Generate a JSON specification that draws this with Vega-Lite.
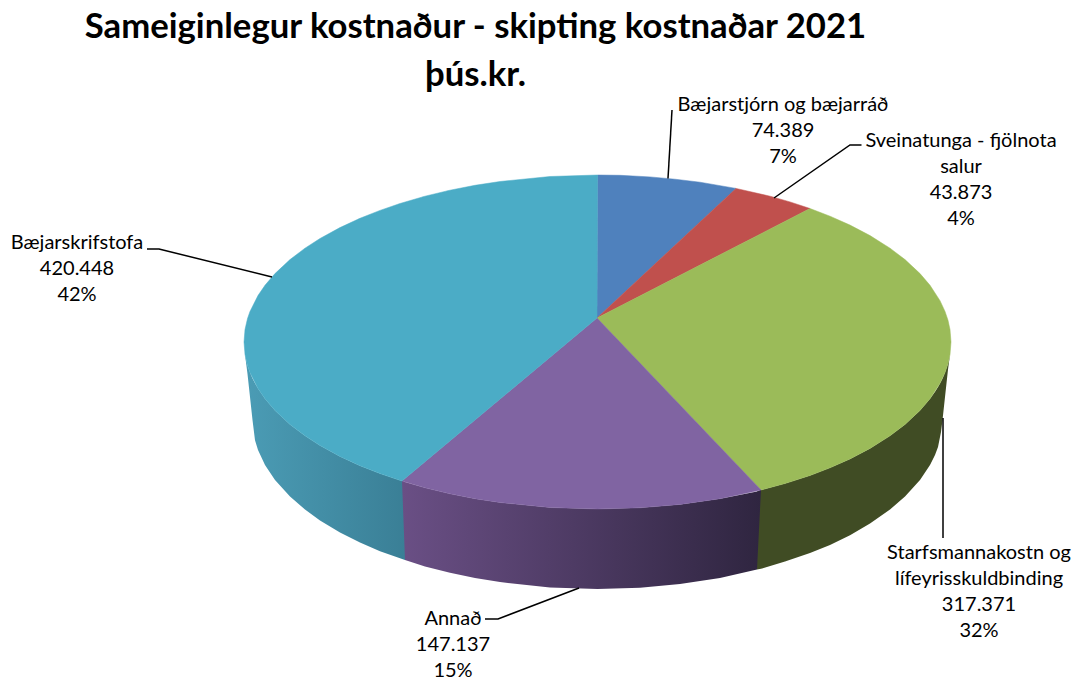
{
"$schema":"https://vega.github.io/schema/vega-lite/v6.json",
"width":1073,"height":680,"padding":0,"autosize":"none",
"background":"white",
"config":{"view":{"stroke":null}},
"title":{"text":["Sameiginlegur kostnaður - skipting kostnaðar 2021","þús.kr."],"font":"Lato","fontSize":34.7,"fontWeight":"bold","color":"#000000","anchor":"middle","dx":-61,"baseline":"top","offset":-94,"lineHeight":48,"orient":"top"},
"datasets":{
"slices":[
{"slice":"Bæjarstjórn og bæjarráð","i":0,"x":597,"y":318},{"slice":"Bæjarstjórn og bæjarráð","i":1,"x":597.5,"y":175},{"slice":"Bæjarstjórn og bæjarráð","i":2,"x":620,"y":175.3},{"slice":"Bæjarstjórn og bæjarráð","i":3,"x":650,"y":176.9},{"slice":"Bæjarstjórn og bæjarráð","i":4,"x":675,"y":179.2},{"slice":"Bæjarstjórn og bæjarráð","i":5,"x":700,"y":182.2},{"slice":"Bæjarstjórn og bæjarráð","i":6,"x":736,"y":188.4},
{"slice":"Sveinatunga - fjölnota salur","i":0,"x":597,"y":318},{"slice":"Sveinatunga - fjölnota salur","i":1,"x":736,"y":188.4},{"slice":"Sveinatunga - fjölnota salur","i":2,"x":770,"y":196.2},{"slice":"Sveinatunga - fjölnota salur","i":3,"x":790,"y":201.9},{"slice":"Sveinatunga - fjölnota salur","i":4,"x":810,"y":208.5},
{"slice":"Starfsmannakostn og lífeyrisskuldbinding","i":0,"x":597,"y":318},{"slice":"Starfsmannakostn og lífeyrisskuldbinding","i":1,"x":810,"y":208.5},{"slice":"Starfsmannakostn og lífeyrisskuldbinding","i":2,"x":830,"y":216.2},{"slice":"Starfsmannakostn og lífeyrisskuldbinding","i":3,"x":850,"y":225.1},{"slice":"Starfsmannakostn og lífeyrisskuldbinding","i":4,"x":870,"y":235.6},{"slice":"Starfsmannakostn og lífeyrisskuldbinding","i":5,"x":890,"y":248.2},{"slice":"Starfsmannakostn og lífeyrisskuldbinding","i":6,"x":905,"y":259.6},{"slice":"Starfsmannakostn og lífeyrisskuldbinding","i":7,"x":920,"y":273.6},{"slice":"Starfsmannakostn og lífeyrisskuldbinding","i":8,"x":930,"y":285.3},{"slice":"Starfsmannakostn og lífeyrisskuldbinding","i":9,"x":940,"y":300.7},{"slice":"Starfsmannakostn og lífeyrisskuldbinding","i":10,"x":945,"y":311.4},{"slice":"Starfsmannakostn og lífeyrisskuldbinding","i":11,"x":948,"y":320.3},{"slice":"Starfsmannakostn og lífeyrisskuldbinding","i":12,"x":950,"y":329.5},{"slice":"Starfsmannakostn og lífeyrisskuldbinding","i":13,"x":951,"y":342},{"slice":"Starfsmannakostn og lífeyrisskuldbinding","i":14,"x":950,"y":354.5},{"slice":"Starfsmannakostn og lífeyrisskuldbinding","i":15,"x":948,"y":363.7},{"slice":"Starfsmannakostn og lífeyrisskuldbinding","i":16,"x":945,"y":372.6},{"slice":"Starfsmannakostn og lífeyrisskuldbinding","i":17,"x":940,"y":383.3},{"slice":"Starfsmannakostn og lífeyrisskuldbinding","i":18,"x":930,"y":398.7},{"slice":"Starfsmannakostn og lífeyrisskuldbinding","i":19,"x":920,"y":410.4},{"slice":"Starfsmannakostn og lífeyrisskuldbinding","i":20,"x":905,"y":424.4},{"slice":"Starfsmannakostn og lífeyrisskuldbinding","i":21,"x":890,"y":435.8},{"slice":"Starfsmannakostn og lífeyrisskuldbinding","i":22,"x":870,"y":448.4},{"slice":"Starfsmannakostn og lífeyrisskuldbinding","i":23,"x":850,"y":458.9},{"slice":"Starfsmannakostn og lífeyrisskuldbinding","i":24,"x":830,"y":467.8},{"slice":"Starfsmannakostn og lífeyrisskuldbinding","i":25,"x":810,"y":475.5},{"slice":"Starfsmannakostn og lífeyrisskuldbinding","i":26,"x":785,"y":483.5},{"slice":"Starfsmannakostn og lífeyrisskuldbinding","i":27,"x":761,"y":490},
{"slice":"Annað","i":0,"x":597,"y":318},{"slice":"Annað","i":1,"x":761,"y":490},{"slice":"Annað","i":2,"x":720,"y":498.7},{"slice":"Annað","i":3,"x":680,"y":504.4},{"slice":"Annað","i":4,"x":640,"y":507.8},{"slice":"Annað","i":5,"x":597.5,"y":509},{"slice":"Annað","i":6,"x":550,"y":507.5},{"slice":"Annað","i":7,"x":500,"y":502.5},{"slice":"Annað","i":8,"x":475,"y":498.7},{"slice":"Annað","i":9,"x":450,"y":493.8},{"slice":"Annað","i":10,"x":425,"y":487.8},{"slice":"Annað","i":11,"x":402,"y":481},
{"slice":"Bæjarskrifstofa","i":0,"x":597,"y":318},{"slice":"Bæjarskrifstofa","i":1,"x":402,"y":481},{"slice":"Bæjarskrifstofa","i":2,"x":380,"y":473.6},{"slice":"Bæjarskrifstofa","i":3,"x":360,"y":465.7},{"slice":"Bæjarskrifstofa","i":4,"x":340,"y":456.4},{"slice":"Bæjarskrifstofa","i":5,"x":320,"y":445.5},{"slice":"Bæjarskrifstofa","i":6,"x":305,"y":435.8},{"slice":"Bæjarskrifstofa","i":7,"x":290,"y":424.4},{"slice":"Bæjarskrifstofa","i":8,"x":275,"y":410.4},{"slice":"Bæjarskrifstofa","i":9,"x":265,"y":398.7},{"slice":"Bæjarskrifstofa","i":10,"x":258,"y":388.5},{"slice":"Bæjarskrifstofa","i":11,"x":250,"y":372.6},{"slice":"Bæjarskrifstofa","i":12,"x":247.5,"y":365.4},{"slice":"Bæjarskrifstofa","i":13,"x":245,"y":354.5},{"slice":"Bæjarskrifstofa","i":14,"x":244,"y":342},{"slice":"Bæjarskrifstofa","i":15,"x":245,"y":329.5},{"slice":"Bæjarskrifstofa","i":16,"x":247.5,"y":318.6},{"slice":"Bæjarskrifstofa","i":17,"x":250,"y":311.4},{"slice":"Bæjarskrifstofa","i":18,"x":258,"y":295.5},{"slice":"Bæjarskrifstofa","i":19,"x":265,"y":285.3},{"slice":"Bæjarskrifstofa","i":20,"x":275,"y":273.6},{"slice":"Bæjarskrifstofa","i":21,"x":290,"y":259.6},{"slice":"Bæjarskrifstofa","i":22,"x":305,"y":248.2},{"slice":"Bæjarskrifstofa","i":23,"x":320,"y":238.5},{"slice":"Bæjarskrifstofa","i":24,"x":340,"y":227.6},{"slice":"Bæjarskrifstofa","i":25,"x":360,"y":218.3},{"slice":"Bæjarskrifstofa","i":26,"x":380,"y":210.4},{"slice":"Bæjarskrifstofa","i":27,"x":400,"y":203.5},{"slice":"Bæjarskrifstofa","i":28,"x":425,"y":196.2},{"slice":"Bæjarskrifstofa","i":29,"x":450,"y":190.2},{"slice":"Bæjarskrifstofa","i":30,"x":475,"y":185.3},{"slice":"Bæjarskrifstofa","i":31,"x":500,"y":181.5},{"slice":"Bæjarskrifstofa","i":32,"x":550,"y":176.5},{"slice":"Bæjarskrifstofa","i":33,"x":597.5,"y":175}
],
"wallTeal":[
{"x":244,"y":342,"y2":342},{"x":245,"y":354.5,"y2":354.5},{"x":247.5,"y":365.4,"y2":374},{"x":250,"y":372.6,"y2":397},{"x":252.5,"y":378.4,"y2":420},{"x":255,"y":383.3,"y2":440.3},{"x":258,"y":388.5,"y2":450},{"x":265,"y":398.7,"y2":465},{"x":275,"y":410.4,"y2":480},{"x":290,"y":424.4,"y2":496.6},{"x":305,"y":435.8,"y2":509.6},{"x":320,"y":445.5,"y2":520.4},{"x":340,"y":456.4,"y2":532.5},{"x":360,"y":465.7,"y2":542.6},{"x":380,"y":473.6,"y2":551.2},{"x":405,"y":482,"y2":560}
],
"wallPurple":[
{"x":402,"y":481,"y2":481},{"x":405,"y":482,"y2":560},{"x":425,"y":487.8,"y2":566.4},{"x":450,"y":493.8,"y2":572.8},{"x":475,"y":498.7,"y2":578},{"x":500,"y":502.5,"y2":582.1},{"x":550,"y":507.5,"y2":587.4},{"x":597.5,"y":509,"y2":589},{"x":640,"y":507.8,"y2":587.7},{"x":680,"y":504.4,"y2":584.1},{"x":720,"y":498.7,"y2":578},{"x":757,"y":491.5,"y2":569.5},{"x":761,"y":490,"y2":490}
],
"wallGreen":[
{"x":757,"y":491.5,"y2":569.5},{"x":761,"y":490,"y2":568.8},{"x":785,"y":483.5,"y2":561.5},{"x":810,"y":475.5,"y2":553.1},{"x":830,"y":467.8,"y2":544.9},{"x":850,"y":458.9,"y2":535.2},{"x":870,"y":448.4,"y2":523.6},{"x":890,"y":435.8,"y2":509.6},{"x":905,"y":424.4,"y2":496.6},{"x":920,"y":410.4,"y2":480},{"x":930,"y":398.7,"y2":465},{"x":935,"y":391.7,"y2":455},{"x":938,"y":386.9,"y2":447},{"x":941,"y":381.5,"y2":432},{"x":942.5,"y":378.4,"y2":420},{"x":945,"y":372.6,"y2":397},{"x":948,"y":363.7,"y2":369.5},{"x":950,"y":354.5,"y2":354.5},{"x":951,"y":342,"y2":342}
],
"leaders":[
{"slice":"Bæjarstjórn og bæjarráð","i":0,"x":672,"y":110},{"slice":"Bæjarstjórn og bæjarráð","i":1,"x":668,"y":178.5},
{"slice":"Sveinatunga - fjölnota salur","i":0,"x":861.5,"y":145},{"slice":"Sveinatunga - fjölnota salur","i":1,"x":850,"y":145},{"slice":"Sveinatunga - fjölnota salur","i":2,"x":774,"y":198},
{"slice":"Starfsmannakostn og lífeyrisskuldbinding","i":0,"x":943,"y":418},{"slice":"Starfsmannakostn og lífeyrisskuldbinding","i":1,"x":943,"y":538},
{"slice":"Annað","i":0,"x":485,"y":619},{"slice":"Annað","i":1,"x":498,"y":619},{"slice":"Annað","i":2,"x":579,"y":588},
{"slice":"Bæjarskrifstofa","i":0,"x":147,"y":249},{"slice":"Bæjarskrifstofa","i":1,"x":159,"y":249},{"slice":"Bæjarskrifstofa","i":2,"x":272,"y":277}
],
"labels":[
{"slice":"Bæjarstjórn og bæjarráð","amount":74389,"share":7,"label":"Bæjarstjórn og bæjarráð\n74.389\n7%","x":783,"y":95},
{"slice":"Sveinatunga - fjölnota salur","amount":43873,"share":4,"label":"Sveinatunga - fjölnota\nsalur\n43.873\n4%","x":961,"y":131},
{"slice":"Starfsmannakostn og lífeyrisskuldbinding","amount":317371,"share":32,"label":"Starfsmannakostn og\nlífeyrisskuldbinding\n317.371\n32%","x":979,"y":543},
{"slice":"Annað","amount":147137,"share":15,"label":"Annað\n147.137\n15%","x":453,"y":609},
{"slice":"Bæjarskrifstofa","amount":420448,"share":42,"label":"Bæjarskrifstofa\n420.448\n42%","x":77,"y":233}
]
},
"encoding":{
"x":{"field":"x","type":"quantitative","axis":null,"scale":{"domain":[0,1073],"nice":false,"zero":false}},
"y":{"field":"y","type":"quantitative","axis":null,"scale":{"domain":[680,0],"nice":false,"zero":false}}
},
"layer":[
{"data":{"name":"wallTeal"},"mark":{"type":"area","color":{"gradient":"linear","x1":0,"y1":0,"x2":1,"y2":0,"stops":[{"offset":0,"color":"#4B9CB5"},{"offset":1,"color":"#3A7F96"}]}},"encoding":{"y2":{"field":"y2"}}},
{"data":{"name":"wallGreen"},"mark":{"type":"area","color":"#404C24"},"encoding":{"y2":{"field":"y2"}}},
{"data":{"name":"wallPurple"},"mark":{"type":"area","color":{"gradient":"linear","x1":0,"y1":0,"x2":1,"y2":0,"stops":[{"offset":0,"color":"#6A4F85"},{"offset":1,"color":"#2F2540"}]}},"encoding":{"y2":{"field":"y2"}}},
{"data":{"name":"slices"},"mark":{"type":"line","strokeWidth":0.5,"interpolate":"linear-closed"},"encoding":{
"order":{"field":"i","type":"quantitative"},
"fill":{"field":"slice","type":"nominal","legend":null,"scale":{"domain":["Bæjarstjórn og bæjarráð","Sveinatunga - fjölnota salur","Starfsmannakostn og lífeyrisskuldbinding","Annað","Bæjarskrifstofa"],"range":["#4F81BD","#C0504D","#9BBB59","#8064A2","#4BACC6"]}},
"stroke":{"field":"slice","type":"nominal","legend":null,"scale":{"domain":["Bæjarstjórn og bæjarráð","Sveinatunga - fjölnota salur","Starfsmannakostn og lífeyrisskuldbinding","Annað","Bæjarskrifstofa"],"range":["#4F81BD","#C0504D","#9BBB59","#8064A2","#4BACC6"]}}
}},
{"data":{"name":"leaders"},"mark":{"type":"line","color":"#000000","strokeWidth":1.5},"encoding":{"order":{"field":"i","type":"quantitative"},"detail":{"field":"slice"}}},
{"data":{"name":"labels"},"mark":{"type":"text","font":"Lato","fontSize":20,"color":"#000000","align":"center","baseline":"top","lineBreak":"\n","lineHeight":26},"encoding":{"text":{"field":"label"}}}
]
}
